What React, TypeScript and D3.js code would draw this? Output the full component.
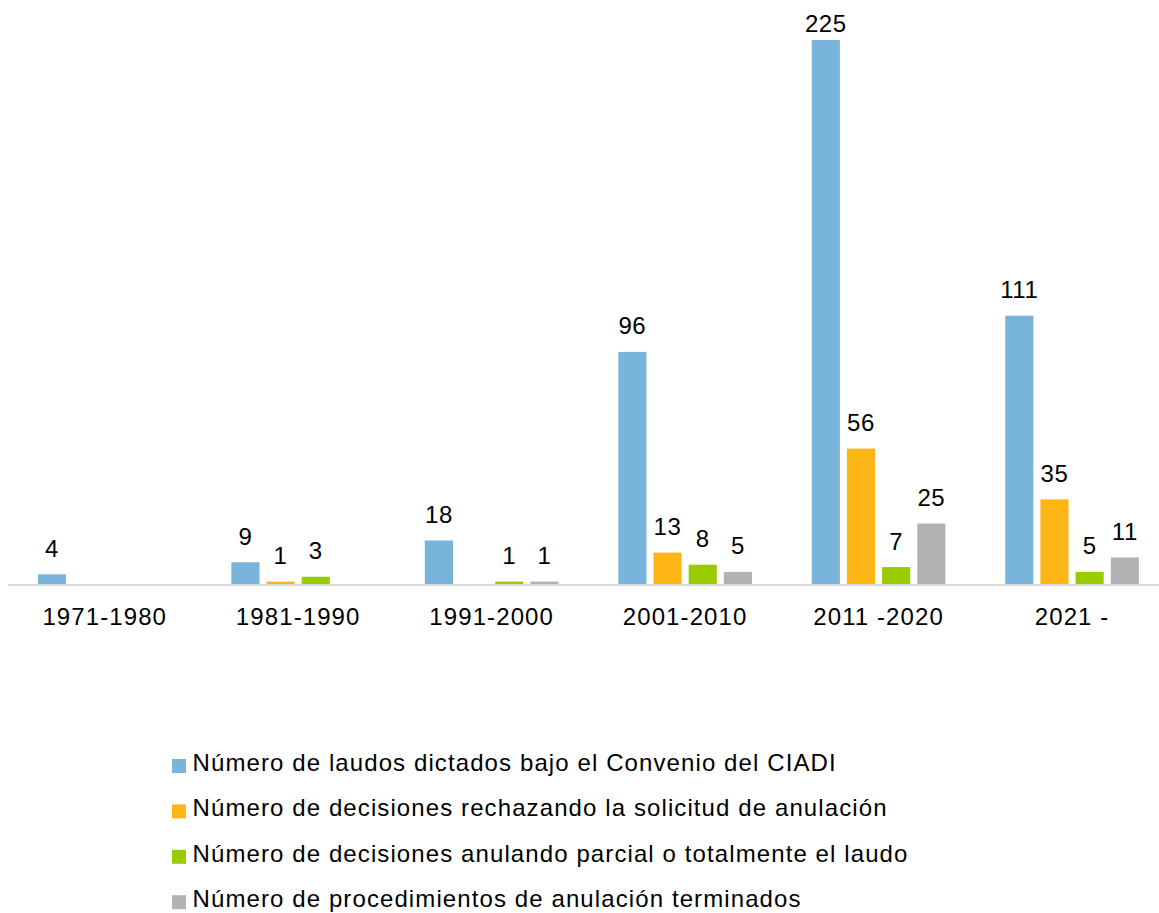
import React, { useEffect, useRef } from "react";
import * as d3 from "d3";

// periodos
const categories = ["1971-1980", "1981-1990", "1991-2000", "2001-2010", "2011 -2020", "2021 -"];

// series
const seriesNames = [
  "Número de laudos dictados bajo el Convenio del CIADI",
  "Número de decisiones rechazando la solicitud de anulación",
  "Número de decisiones anulando parcial o totalmente el laudo",
  "Número de procedimientos de anulación terminados",
];
const laudos = [4, 9, 18, 96, 225, 111];
const rechazos = [0, 1, 0, 13, 56, 35];
const anulaciones = [0, 3, 1, 8, 7, 5];
const terminados = [0, 0, 1, 5, 25, 11];

const colors = ["#79b4db", "#fdb515", "#99cc00", "#b2b2b2"];

export default function App() {
  const svgRef = useRef<SVGSVGElement>(null);

  useEffect(() => {
    const width = 1159;
    const height = 913;
    const font = "'Liberation Sans', Arial, sans-serif";
    const fs = 24;
    const ls = 1.1;

    const svg = d3.select(svgRef.current);
    svg.selectAll("*").remove();
    svg.attr("width", width).attr("height", height);

    const values = [laudos, rechazos, anulaciones, terminados];
    const rows = categories.map((c, i) => ({
      cat: c,
      vals: values.map((s, k) => ({ key: seriesNames[k], idx: k, v: s[i] })),
    }));

    // escala x (periodos) y escala interna (series)
    const x0 = d3.scaleBand().domain(categories).range([8, 1168.8]).paddingInner(0).paddingOuter(0);
    const x1 = d3.scaleBand<number>()
      .domain([0, 1, 2, 3])
      .range([0, x0.bandwidth()])
      .paddingInner(0.2)
      .paddingOuter(0.85);

    const y = d3.scaleLinear().domain([0, 225]).range([584, 40]);

    const g = svg.append("g");

    // eje x
    g.append("line")
      .attr("x1", 8)
      .attr("x2", width)
      .attr("y1", y(0) + 1)
      .attr("y2", y(0) + 1)
      .attr("stroke", "#d9d9d9")
      .attr("stroke-width", 2);

    const groups = g.selectAll(".grp")
      .data(rows)
      .enter()
      .append("g")
      .attr("class", "grp")
      .attr("transform", d => `translate(${x0(d.cat)},0)`);

    groups.selectAll("rect")
      .data(d => d.vals)
      .enter()
      .append("rect")
      .attr("x", d => x1(d.idx)!)
      .attr("y", d => y(d.v))
      .attr("width", x1.bandwidth())
      .attr("height", d => y(0) - y(d.v))
      .attr("fill", d => colors[d.idx]);

    // etiquetas de valor (sin ceros)
    groups.selectAll("text.val")
      .data(d => d.vals.filter(v => v.v > 0))
      .enter()
      .append("text")
      .attr("class", "val")
      .attr("x", d => x1(d.idx)! + x1.bandwidth() / 2)
      .attr("y", d => Math.max(y(d.v) - 17.5, 32))
      .attr("text-anchor", "middle")
      .attr("font-family", font)
      .attr("font-size", fs)
      .attr("letter-spacing", 0.6)
      .attr("fill", "#000")
      .text(d => d.v);

    g.selectAll("text.cat")
      .data(categories)
      .enter()
      .append("text")
      .attr("class", "cat")
      .attr("x", d => x0(d)! + x0.bandwidth() / 2)
      .attr("y", 624.5)
      .attr("text-anchor", "middle")
      .attr("font-family", font)
      .attr("font-size", fs)
      .attr("letter-spacing", ls)
      .attr("fill", "#000")
      .text(d => d);

    // leyenda
    const legend = svg.append("g");
    const items = legend.selectAll("g")
      .data(seriesNames)
      .enter()
      .append("g")
      .attr("transform", (d, i) => `translate(172,${766 + i * 45.4})`);

    items.append("rect")
      .attr("x", 0)
      .attr("y", -7)
      .attr("width", 14)
      .attr("height", 14)
      .attr("fill", (d, i) => colors[i]);

    items.append("text")
      .attr("x", 20.5)
      .attr("y", 4.8)
      .attr("font-family", font)
      .attr("font-size", fs)
      .attr("letter-spacing", ls)
      .attr("fill", "#000")
      .text(d => d);
  }, []);

  return <svg ref={svgRef} style={{ position: "absolute", left: 0, top: 0 }}></svg>;
}
